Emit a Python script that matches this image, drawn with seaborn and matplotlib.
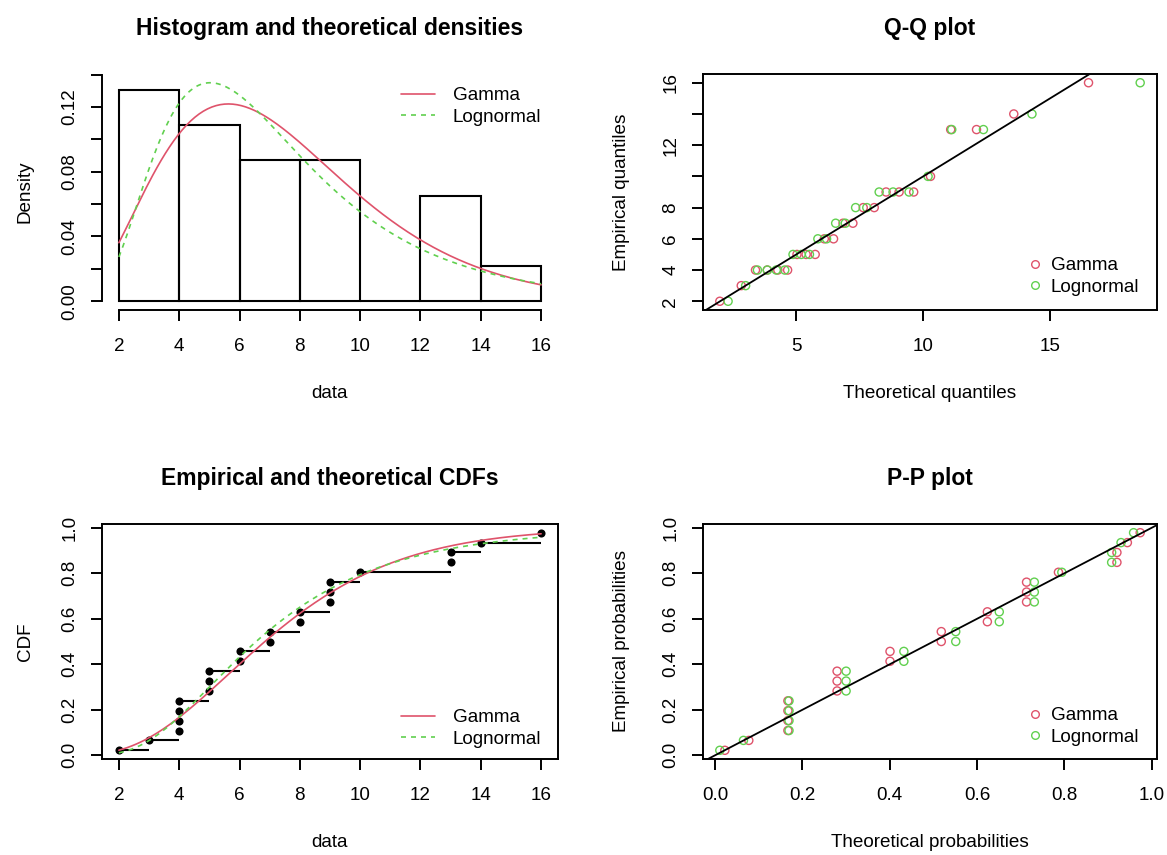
import math
import numpy as np
import pandas as pd
import seaborn as sns
import matplotlib
matplotlib.use("Agg")
import matplotlib.pyplot as plt
from matplotlib.lines import Line2D

data_values = [2, 3, 4, 4, 4, 4, 5, 5, 5, 6, 6, 7, 7, 8, 8, 9, 9, 9, 10, 13, 13, 14, 16]
hist_edges = [2, 4, 6, 8, 10, 12, 14, 16]
dist_names = ["Gamma", "Lognormal"]
dist_colors = ["#DF536B", "#61D04F"]

titles = ["Histogram and theoretical densities", "Q-Q plot",
          "Empirical and theoretical CDFs", "P-P plot"]
dens_yticks = [0.0, 0.02, 0.04, 0.06, 0.08, 0.10, 0.12, 0.14]
dens_ylabels = ["0.00", "", "0.04", "", "0.08", "", "0.12", ""]
qq_yticks = [2, 4, 6, 8, 10, 12, 14, 16]
qq_ylabels = ["2", "4", "6", "8", "", "12", "", "16"]
qq_xticks = [5, 10, 15]
data_xticks = [2, 4, 6, 8, 10, 12, 14, 16]
prob_ticks = [0.0, 0.2, 0.4, 0.6, 0.8, 1.0]


# --- small helpers for the fitted distributions (no scipy available) ---
def digamma(v):
    res = 0.0
    while v < 6:
        res -= 1.0 / v
        v += 1.0
    f = 1.0 / (v * v)
    return res + math.log(v) - 0.5 / v - f * (1/12 - f * (1/120 - f * (1/252 - f * (1/240 - f / 132))))


def gamma_cdf(v, k, r):
    z = r * v
    if z <= 0:
        return 0.0
    term = 1.0 / k
    total = term
    a = k
    for _ in range(1000):
        a += 1
        term *= z / a
        total += term
        if term < total * 1e-15:
            break
    return total * math.exp(-z + k * math.log(z) - math.lgamma(k))


def lnorm_cdf(v, mu, sd):
    return 0.5 * (1 + math.erf((math.log(v) - mu) / (sd * math.sqrt(2))))


def invert(cdf, p, lo=1e-6, hi=500.0):
    for _ in range(200):
        mid = 0.5 * (lo + hi)
        if cdf(mid) < p:
            lo = mid
        else:
            hi = mid
    return 0.5 * (lo + hi)


x = np.array(sorted(data_values), dtype=float)
n = len(x)
logx = np.log(x)

# gamma MLE
s = math.log(x.mean()) - logx.mean()
lo, hi = 0.01, 1000.0
for _ in range(200):
    mid = 0.5 * (lo + hi)
    if math.log(mid) - digamma(mid) > s:
        lo = mid
    else:
        hi = mid
shape = 0.5 * (lo + hi)
rate = shape / x.mean()
# lognormal MLE
meanlog = logx.mean()
sdlog = math.sqrt(np.mean((logx - meanlog) ** 2))

pdfs = [
    lambda v: np.exp(shape * np.log(rate) + (shape - 1) * np.log(v) - rate * v - math.lgamma(shape)),
    lambda v: np.exp(-(np.log(v) - meanlog) ** 2 / (2 * sdlog ** 2)) / (v * sdlog * math.sqrt(2 * math.pi)),
]
cdfs = [lambda v: gamma_cdf(v, shape, rate), lambda v: lnorm_cdf(v, meanlog, sdlog)]

ppts = (np.arange(1, n + 1) - 0.5) / n
grid = np.linspace(2, 16, 201)

# --- style ---
sns.set_theme(style="ticks", rc={"axes.edgecolor": "black", "xtick.color": "black",
                                 "ytick.color": "black", "text.color": "black",
                                 "axes.labelcolor": "black"})
plt.rcParams["font.family"] = ["Liberation Sans", "DejaVu Sans"]

W, H = 1167, 855
FS = 13.6
fig = plt.figure(figsize=(W / 100, H / 100), dpi=100)


def add_ax(x0, y0, x1, y1):
    return fig.add_axes([x0 / W, 1 - y1 / H, (x1 - x0) / W, (y1 - y0) / H])


def pad4(lo, hi):
    r = hi - lo
    return lo - 0.04 * r, hi + 0.04 * r


def r_style(ax, title, xlabel, ylabel, ylab_px):
    for sp in ax.spines.values():
        sp.set_linewidth(1.4)
    ax.tick_params(direction="out", length=8, width=1.4, labelsize=FS)
    ax.tick_params(axis="x", pad=12)
    ax.tick_params(axis="y", pad=9, labelrotation=90)
    plt.setp(ax.get_yticklabels(), va="center")
    h_px = ax.get_position().height * H
    w_px = ax.get_position().width * W
    ax.set_title(title, fontsize=16.5, fontweight="bold", y=1 + 46 / h_px, va="center", pad=0)
    ax.set_xlabel(xlabel, fontsize=FS)
    ax.set_ylabel(ylabel, fontsize=FS)
    ax.xaxis.set_label_coords(0.5, -83 / h_px)
    ax.xaxis.label.set_va("center")
    ax.yaxis.set_label_coords(-ylab_px / w_px, 0.5)
    ax.yaxis.label.set_va("center")


def legend_at(ax, handles, x_px, y_px, hl, tp):
    ax.legend(handles=handles, labels=dist_names, loc="upper left",
              bbox_to_anchor=(x_px / W, 1 - y_px / H), bbox_transform=fig.transFigure,
              frameon=False, fontsize=FS, borderpad=0, borderaxespad=0,
              handlelength=hl, handletextpad=tp, labelspacing=0.22)


line_handles = [Line2D([], [], color=dist_colors[0], lw=1.2),
                Line2D([], [], color=dist_colors[1], lw=1.2, linestyle=(0, (3, 3)))]
mark_handles = [Line2D([], [], ls="none", marker="o", markersize=5.5, markerfacecolor="none",
                       markeredgecolor=c, markeredgewidth=1) for c in dist_colors]

# --- 1. histogram and densities ---
ax1 = add_ax(102, 74, 558, 310)
counts = pd.Series(pd.cut(x, bins=hist_edges, right=True, include_lowest=True)).value_counts(sort=False).sort_index().values
mids = (np.array(hist_edges[:-1]) + np.array(hist_edges[1:])) / 2
sns.histplot(x=mids, weights=counts, bins=hist_edges, stat="density", fill=False,
             color="black", linewidth=1.5, ax=ax1)
ymax = 0
for i, name in enumerate(dist_names):
    dens = pdfs[i](grid)
    ymax = max(ymax, dens.max())
    sns.lineplot(x=grid, y=dens, color=dist_colors[i], lw=1.2, ax=ax1)
    if i == 1:
        ax1.lines[-1].set_linestyle((0, (3, 3)))
ax1.set_xlim(*pad4(2, 16))
ax1.set_ylim(*pad4(0, ymax))
ax1.set_xticks(data_xticks)
ax1.set_yticks(dens_yticks)
ax1.set_yticklabels(dens_ylabels)
ax1.spines["top"].set_visible(False)
ax1.spines["right"].set_visible(False)
ax1.spines["left"].set_bounds(0, 0.14)
ax1.spines["bottom"].set_bounds(2, 16)
r_style(ax1, titles[0], "data", "Density", 77)
legend_at(ax1, line_handles, 401, 87, 1.8, 0.95)

# --- 2. Q-Q plot ---
ax2 = add_ax(703, 74, 1157, 310)
allq = []
for i, name in enumerate(dist_names):
    q = np.array([invert(cdfs[i], p) for p in ppts])
    allq.extend(q)
    sns.scatterplot(x=q, y=x, marker="o", s=34, facecolor="none", edgecolor=dist_colors[i],
                    linewidth=1, ax=ax2)
ax2.axline((0, 0), slope=1, color="black", lw=1.3)
ax2.set_xlim(*pad4(min(allq), max(allq)))
ax2.set_ylim(*pad4(x.min(), x.max()))
ax2.set_xticks(qq_xticks)
ax2.set_yticks(qq_yticks)
ax2.set_yticklabels(qq_ylabels)
r_style(ax2, titles[1], "Theoretical quantiles", "Empirical quantiles", 81)
legend_at(ax2, mark_handles, 1026, 257, 1.0, 0.3)

# --- 3. empirical and theoretical CDFs ---
ax3 = add_ax(102, 524, 558, 759)
ax3.hlines(ppts[:-1], x[:-1], x[1:], color="black", lw=1.5)
sns.scatterplot(x=x, y=ppts, color="black", s=34, linewidth=0, ax=ax3)
for i, name in enumerate(dist_names):
    cd = np.array([cdfs[i](v) for v in grid])
    sns.lineplot(x=grid, y=cd, color=dist_colors[i], lw=1.2, ax=ax3)
    if i == 1:
        ax3.lines[-1].set_linestyle((0, (3, 3)))
ax3.set_xlim(*pad4(2, 16))
ax3.set_ylim(*pad4(ppts.min(), ppts.max()))
ax3.set_xticks(data_xticks)
ax3.set_yticks(prob_ticks)
ax3.set_yticklabels([f"{t:.1f}" for t in prob_ticks])
r_style(ax3, titles[2], "data", "CDF", 77)
legend_at(ax3, line_handles, 401, 709, 1.8, 0.95)

# --- 4. P-P plot ---
ax4 = add_ax(703, 524, 1157, 759)
allp = []
for i, name in enumerate(dist_names):
    tp = np.array([cdfs[i](v) for v in x])
    allp.extend(tp)
    sns.scatterplot(x=tp, y=ppts, marker="o", s=34, facecolor="none", edgecolor=dist_colors[i],
                    linewidth=1, ax=ax4)
ax4.axline((0, 0), slope=1, color="black", lw=1.3)
ax4.set_xlim(*pad4(min(allp), max(allp)))
ax4.set_ylim(*pad4(ppts.min(), ppts.max()))
ax4.set_xticks(prob_ticks)
ax4.set_xticklabels([f"{t:.1f}" for t in prob_ticks])
ax4.set_yticks(prob_ticks)
ax4.set_yticklabels([f"{t:.1f}" for t in prob_ticks])
r_style(ax4, titles[3], "Theoretical probabilities", "Empirical probabilities", 81)
legend_at(ax4, mark_handles, 1026, 707, 1.0, 0.3)

fig.savefig("out.png", dpi=100)
